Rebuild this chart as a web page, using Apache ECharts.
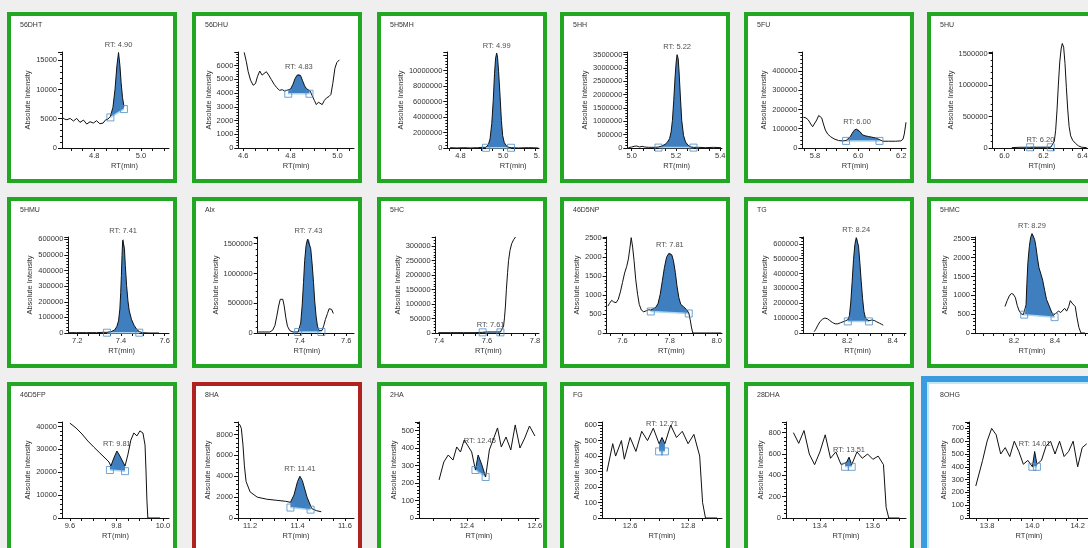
<!DOCTYPE html>
<html><head><meta charset="utf-8">
<script src="https://cdn.jsdelivr.net/npm/echarts@6/dist/echarts.min.js"></script>
<style>html,body{margin:0;padding:0;background:#efefef;}#c{width:1088px;height:548px;}</style>
</head><body><div id="c"></div>
<script>
// ---------------- DATA ----------------
const names = ['56DHT','56DHU','5H5MH','5HH','5FU','5HU','5HMU','Alx','5HC','46D5NP','TG','5HMC','46D5FP','8HA','2HA','FG','28DHA','8OHG'];
const rtText = ['RT: 4.90','RT: 4.83','RT: 4.99','RT: 5.22','RT: 6.00','RT: 6.20','RT: 7.41','RT: 7.43','RT: 7.61','RT: 7.81','RT: 8.24','RT: 8.29','RT: 9.81','RT: 11.41','RT: 12.45','RT: 12.71','RT: 13.51','RT: 14.01'];
const status = ['ok','ok','ok','ok','ok','ok','ok','ok','ok','ok','ok','ok','ok','bad','ok','ok','ok','selected'];

const xMin = [4.662,4.579,4.739,4.980,5.741,5.940, 7.159,7.219,7.386,7.533,8.007,8.010, 9.566,11.149,12.259,12.503,13.272,13.72];
const xMax = [5.120,5.070,5.168,5.408,6.222,6.434, 7.620,7.633,7.817,8.022,8.459,8.566, 10.026,11.638,12.612,12.917,13.725,14.25];
const xLabelVals = [[4.8,5.0],[4.6,4.8,5.0],[4.8,5.0,5.158],[5.0,5.2,5.4],[5.8,6.0,6.2],[6.0,6.2,6.4],
  [7.2,7.4,7.6],[7.2,7.4,7.6],[7.4,7.6,7.8],[7.6,7.8,8.0],[8.0,8.2,8.4],[8.2,8.4,8.6],
  [9.6,9.8,10.0],[11.2,11.4,11.6],[12.4,12.6],[12.6,12.8],[13.4,13.6],[13.8,14.0,14.2]];
const xLabelText = [['4.8','5.0'],['4.6','4.8','5.0'],['4.8','5.0','5.'],['5.0','5.2','5.4'],['5.8','6.0','6.2'],['6.0','6.2','6.4'],
  ['7.2','7.4','7.6'],['7.2','7.4','7.6'],['7.4','7.6','7.8'],['7.6','7.8','8.0'],['8.0','8.2','8.4'],['8.2','8.4','8.6'],
  ['9.6','9.8','10.0'],['11.2','11.4','11.6'],['12.4','12.6'],['12.6','12.8'],['13.4','13.6'],['13.8','14.0','14.2']];
const yMax = [16400,6990,12400000,3600000,498000,1523000, 615000,1613000,331500,2527,646000,2550, 42000,9200,550,620,900,750];
const yStep = [5000,1000,2000000,500000,100000,500000, 100000,500000,50000,500,100000,500, 10000,2000,100,100,200,100];
const yLabelTop = [15000,6000,10000000,3500000,400000,1500000, 600000,1500000,300000,2500,600000,2500, 40000,8000,500,600,800,700];

// chromatogram traces [RT(min), intensity]
const c_56DHT = [[4.662,5227],[4.673,4943],[4.683,4830],[4.697,5057],[4.711,4602],[4.725,5057],[4.739,4375],[4.754,4773],[4.768,4091],[4.782,4489],[4.796,4261],[4.810,4659],[4.824,4148],[4.838,4261],[4.849,4830],[4.859,4943],[4.869,5398],[4.880,6932],[4.889,10057],[4.897,14034],[4.904,16307],[4.910,14034],[4.915,11193],[4.921,8636],[4.927,7102]];
const c_56DHU = [[4.604,6963],[4.613,6296],[4.621,5555],[4.631,4938],[4.642,4568],[4.652,4691],[4.660,5185],[4.670,5605],[4.680,5308],[4.688,5185],[4.698,5555],[4.708,5308],[4.719,4987],[4.731,4642],[4.742,4395],[4.754,4197],[4.766,4247],[4.775,4148],[4.785,4197],[4.792,4148],[4.801,4296],[4.811,4642],[4.820,5061],[4.829,5308],[4.836,5383],[4.843,5284],[4.851,4938],[4.860,4543],[4.868,4321],[4.876,4247],[4.884,4148],[4.892,3827],[4.902,3457],[4.910,3160],[4.919,3333],[4.927,3383],[4.935,3160],[4.944,3457],[4.954,3654],[4.964,3753],[4.972,3901],[4.980,4691],[4.989,5802],[4.997,6222],[5.008,6419]];
const c_5H5MH = [[4.752,40000],[4.784,5000],[4.816,40000],[4.848,5000],[4.880,40000],[4.904,87000],[4.920,87000],[4.931,434780],[4.939,1173900],[4.947,3130000],[4.954,6174000],[4.960,9652000],[4.965,11609000],[4.970,12261000],[4.974,11739000],[4.979,9870000],[4.986,6609000],[4.992,3565000],[4.998,1608000],[5.005,739000],[5.014,304000],[5.027,87000],[5.040,43000],[5.072,5000],[5.120,43000],[5.165,5000]];
const c_5HH = [[4.985,12500],[5.000,37500],[5.011,62500],[5.023,75000],[5.035,37500],[5.047,62500],[5.059,37500],[5.075,25000],[5.091,25000],[5.106,25000],[5.121,37500],[5.136,75000],[5.151,137500],[5.162,225000],[5.171,350000],[5.178,600000],[5.184,1037500],[5.190,1787500],[5.196,2662500],[5.201,3225000],[5.205,3500000],[5.210,3350000],[5.214,2850000],[5.220,1912500],[5.226,1037500],[5.234,475000],[5.243,225000],[5.255,100000],[5.267,37500],[5.279,25000],[5.302,25000],[5.332,12500],[5.370,25000],[5.403,12500]];
const c_5FU = [[5.746,159600],[5.758,156100],[5.769,145600],[5.780,124500],[5.789,110500],[5.798,117500],[5.808,145600],[5.817,168400],[5.823,171900],[5.831,156100],[5.839,124500],[5.848,93000],[5.859,71900],[5.873,57900],[5.888,47400],[5.909,38600],[5.927,36800],[5.944,38600],[5.953,43900],[5.963,57900],[5.972,75400],[5.981,91200],[5.991,98200],[6.000,96500],[6.009,84200],[6.020,68400],[6.033,63100],[6.048,59600],[6.064,56100],[6.079,52600],[6.091,47400],[6.099,40300],[6.115,35100],[6.141,35100],[6.172,35100],[6.198,36800],[6.208,45600],[6.214,71900],[6.222,133300]];
const c_5HU = [[6.038,5900],[6.080,11700],[6.115,11700],[6.132,11700],[6.157,11700],[6.183,11700],[6.209,11700],[6.238,11700],[6.248,29300],[6.256,105500],[6.263,281200],[6.270,603500],[6.277,1013600],[6.284,1365100],[6.291,1570200],[6.297,1658100],[6.304,1599500],[6.311,1335900],[6.318,955000],[6.325,603500],[6.332,339800],[6.340,193300],[6.350,123000],[6.364,76200],[6.379,35200],[6.397,11700],[6.422,5900]];
const c_5HMU = [[7.162,2150],[7.197,2150],[7.242,2150],[7.288,2150],[7.318,4300],[7.336,4300],[7.355,8600],[7.371,19400],[7.381,40900],[7.389,77400],[7.395,152700],[7.399,260200],[7.402,367700],[7.405,496700],[7.408,593400],[7.410,604200],[7.413,593400],[7.416,539700],[7.420,432200],[7.426,303200],[7.432,206400],[7.438,141900],[7.448,88200],[7.460,49500],[7.472,23700],[7.484,8600],[7.499,2150],[7.529,0],[7.574,0]];
const c_Alx = [[7.221,17000],[7.250,17000],[7.271,17000],[7.283,45300],[7.293,124500],[7.301,283000],[7.309,452800],[7.316,566000],[7.321,588600],[7.327,566000],[7.333,452800],[7.340,254700],[7.347,113200],[7.357,39600],[7.371,17000],[7.393,17000],[7.399,45300],[7.404,169800],[7.410,452800],[7.416,849000],[7.421,1216900],[7.427,1471600],[7.433,1573500],[7.437,1584800],[7.441,1550800],[7.447,1415000],[7.453,1160300],[7.459,849000],[7.464,537700],[7.470,283000],[7.476,113200],[7.483,39600],[7.490,17000],[7.496,45300],[7.503,124500],[7.510,226400],[7.519,328300],[7.526,407500],[7.531,430200],[7.537,396200],[7.544,328300]];
const c_5HC = [[7.397,1200],[7.447,1200],[7.503,1200],[7.546,1200],[7.582,2300],[7.602,3500],[7.623,3500],[7.644,3500],[7.656,3500],[7.663,8100],[7.669,23300],[7.673,52300],[7.677,93000],[7.681,151200],[7.686,209300],[7.690,250000],[7.696,285000],[7.703,308200],[7.711,322200],[7.719,331500]];
const c_46D5NP = [[7.538,709],[7.545,780],[7.554,860],[7.563,816],[7.573,798],[7.582,887],[7.591,1082],[7.600,1330],[7.609,1578],[7.618,1755],[7.625,1950],[7.631,2216],[7.637,2509],[7.643,2261],[7.649,1906],[7.656,1418],[7.664,1019],[7.671,754],[7.680,603],[7.690,558],[7.701,585],[7.711,612],[7.720,603],[7.730,638],[7.741,674],[7.751,780],[7.760,1019],[7.769,1374],[7.778,1729],[7.787,1995],[7.796,2092],[7.801,2110],[7.809,2057],[7.816,1906],[7.824,1596],[7.831,1241],[7.839,931],[7.847,754],[7.859,691],[7.871,621],[7.881,532],[7.887,355],[7.893,133],[7.898,0],[7.919,0],[7.963,0],[8.019,0]];
const c_TG = [[8.055,9100],[8.062,25100],[8.071,52500],[8.081,77600],[8.092,93600],[8.102,100500],[8.113,95900],[8.123,84500],[8.135,70800],[8.147,61600],[8.159,61600],[8.170,68500],[8.182,75300],[8.193,82200],[8.203,89000],[8.210,116400],[8.216,207800],[8.222,344700],[8.228,493100],[8.234,595900],[8.240,641500],[8.244,637000],[8.250,584400],[8.256,470300],[8.262,344700],[8.268,230600],[8.274,143800],[8.281,98200],[8.289,86800],[8.296,82200],[8.307,86800],[8.319,84500],[8.330,75300],[8.342,66200],[8.351,59400],[8.359,52500]];
const c_5HMC = [[8.156,702],[8.167,861],[8.177,983],[8.187,1049],[8.197,1030],[8.207,936],[8.216,730],[8.226,581],[8.236,506],[8.246,487],[8.254,524],[8.259,749],[8.263,1311],[8.268,1873],[8.275,2294],[8.281,2528],[8.288,2640],[8.294,2603],[8.301,2481],[8.307,2294],[8.314,2013],[8.322,1732],[8.330,1592],[8.340,1404],[8.350,1124],[8.359,889],[8.371,730],[8.382,581],[8.392,468],[8.398,440],[8.408,543],[8.418,581],[8.428,543],[8.437,581],[8.447,655],[8.457,581],[8.467,702],[8.475,861],[8.483,796],[8.491,824],[8.499,702],[8.507,421],[8.517,140],[8.527,0],[8.546,0]];
const c_46D5FP = [[9.600,41500],[9.626,39400],[9.652,36750],[9.677,33700],[9.703,31000],[9.729,28400],[9.751,26250],[9.768,24500],[9.776,22750],[9.789,26250],[9.802,29300],[9.815,27100],[9.828,24500],[9.837,22750],[9.849,27600],[9.862,34100],[9.875,37200],[9.888,35900],[9.901,38100],[9.914,37200],[9.923,31900],[9.927,21000],[9.931,7900],[9.935,0],[9.987,0]];
const c_8HA = [[11.155,9000],[11.163,8600],[11.170,7000],[11.176,5000],[11.183,3500],[11.20,2500],[11.23,2000],[11.27,1800],[11.31,1700],[11.35,1600],[11.37,1500],[11.385,2200],[11.40,3500],[11.41,4000],[11.42,3600],[11.44,2000],[11.46,900],[11.48,700],[11.50,600]];
const c_2HA = [[12.318,218],[12.332,321],[12.345,361],[12.359,332],[12.370,407],[12.381,378],[12.392,447],[12.403,413],[12.414,378],[12.425,275],[12.433,361],[12.444,304],[12.455,235],[12.466,390],[12.477,447],[12.490,516],[12.501,407],[12.515,464],[12.529,390],[12.542,533],[12.556,401],[12.570,458],[12.584,527],[12.600,470]];
const c_FG = [[12.52,300],[12.54,480],[12.55,400],[12.57,500],[12.58,380],[12.60,520],[12.62,430],[12.64,560],[12.66,500],[12.68,580],[12.70,480],[12.71,520],[12.72,480],[12.74,600],[12.76,520],[12.78,560],[12.80,480],[12.82,540],[12.84,400],[12.85,100],[12.86,0],[12.90,0]];
const c_28DHA = [[13.30,800],[13.32,700],[13.34,820],[13.36,600],[13.38,500],[13.40,620],[13.42,780],[13.44,560],[13.46,620],[13.48,500],[13.50,520],[13.51,570],[13.52,500],[13.54,620],[13.56,560],[13.58,600],[13.60,550],[13.62,580],[13.64,500],[13.65,100],[13.66,0],[13.70,0]];
const c_8OHG = [[13.75,250],[13.78,450],[13.80,600],[13.82,700],[13.84,650],[13.86,500],[13.88,550],[13.90,480],[13.92,600],[13.94,520],[13.96,420],[13.98,450],[14.00,400],[14.01,520],[14.02,420],[14.04,450],[14.06,560],[14.08,600],[14.10,500],[14.12,600],[14.14,480],[14.16,520],[14.18,600],[14.20,400],[14.22,550],[14.24,580]];
const curves = [c_56DHT,c_56DHU,c_5H5MH,c_5HH,c_5FU,c_5HU,c_5HMU,c_Alx,c_5HC,c_46D5NP,c_TG,c_5HMC,c_46D5FP,c_8HA,c_2HA,c_FG,c_28DHA,c_8OHG];

// integration boundaries: [RT, baseline intensity]
const peakStart = [[4.869,5227],[4.791,3950],[4.920,30000],[5.121,15000],[5.944,36800],[6.132,11700],[7.336,2000],[7.393,17000],[7.582,2300],[7.720,567],[8.203,78000],[8.250,487],[9.772,21000],[11.37,1000],[12.425,275],[12.70,430],[13.495,480],[14.00,400]];
const peakEnd   = [[4.927,6650],[4.881,3950],[5.037,30000],[5.279,15000],[6.099,36800],[6.238,11700],[7.484,2000],[7.493,17000],[7.656,2300],[7.881,514],[8.296,78000],[8.398,421],[9.837,20500],[11.455,800],[12.455,235],[12.72,430],[13.52,480],[14.02,400]];
// label anchor (apex of integrated peak)
const apex = [[4.904,16307],[4.836,5383],[4.970,12261000],[5.205,3500000],[5.995,98200],[6.185,11700],[7.410,604200],[7.437,1584800],[7.615,3500],[7.801,2110],[8.240,641500],[8.288,2640],[9.802,29300],[11.41,4000],[12.438,400],[12.71,560],[13.51,570],[14.01,520]];

// ---------------- LAYOUT ----------------
const FONT = '"Liberation Sans", Arial, Helvetica, sans-serif';
const colX = [7,192,377,560,744,927], rowY = [12,197,382];
const FW = 170, FH = 171, PLOT_TOP = 40, PLOT_BOTTOM = 136, PLOT_RIGHT = 162;
const gridLeft = [55,46.3,70.3,67.3,58.3,65.7, 61.3,65.7,58.7,46.7,59.3,48, 55,46,42,42,42,42];
const xNameShift = [9,0,20,2,1,1, 3,1,1,7,3,0, 0,0,0,0,0,0];
const frameCol = {ok:'#22a722', bad:'#b0221f', selected:'#3a9be0'};

function interp(curve, x) {
  for (let k = 0; k < curve.length - 1; k++) {
    const a = curve[k], b = curve[k+1];
    if (x >= a[0] && x <= b[0]) return a[1] + (b[1]-a[1]) * (x-a[0]) / (b[0]-a[0]);
  }
  return x < curve[0][0] ? curve[0][1] : curve[curve.length-1][1];
}

const grids = [], xAxes = [], yAxes = [], series = [], graphics = [];
names.forEach((nm, i) => {
  const r = Math.floor(i / 6), c = i % 6;
  const px = colX[c], py = rowY[r];
  const st = status[i];
  if (st === 'selected') {
    graphics.push({type:'rect', z:-2, silent:true, shape:{x:px-6, y:py-6, width:FW+12, height:FH+12}, style:{fill:'#3a9be0'}});
    graphics.push({type:'rect', z:-1, silent:true, shape:{x:px+1, y:py+1, width:FW-2, height:FH-2}, style:{fill:'#fff', stroke:'#bfe8f4', lineWidth:2}});
  } else {
    graphics.push({type:'rect', z:-1, silent:true, shape:{x:px+2, y:py+2, width:FW-4, height:FH-4}, style:{fill:'#fff', stroke:frameCol[st], lineWidth:4}});
  }
  graphics.push({type:'text', z:5, silent:true, x:px+13, y:py+13, style:{text:nm, fill:'#333', font:'7px ' + FONT, textVerticalAlign:'middle', verticalAlign:'middle'}});

  const gl = gridLeft[i];
  grids.push({left:px+gl, top:py+PLOT_TOP, width:PLOT_RIGHT-gl, height:PLOT_BOTTOM-PLOT_TOP, containLabel:false, outerBoundsMode:'none', show:false});

  const tks = [];
  for (let t = Math.ceil(xMin[i]/0.05 - 1e-6); t*0.05 <= xMax[i] + 1e-9; t++) tks.push(+(t*0.05).toFixed(3));
  const labVals = xLabelVals[i], labTxt = xLabelText[i];
  xAxes.push({
    type:'value', gridIndex:i, min:xMin[i], max:xMax[i],
    name:'RT(min)', nameLocation:'middle', nameGap:14,
    nameTextStyle:{fontSize:7.5, color:'#333', fontFamily:FONT, padding: xNameShift[i] > 0 ? [0,0,0,2*xNameShift[i]] : 0},
    axisLine:{show:true, onZero:false, lineStyle:{color:'#111', width:1}},
    axisTick:{show:true, customValues:tks, length:3, lineStyle:{color:'#111'}},
    axisLabel:{show:true, customValues:labVals, margin:4, fontSize:7.5, color:'#333', fontFamily:FONT,
      formatter:(v) => { const k = labVals.findIndex(u => Math.abs(u - v) < 1e-6); return k >= 0 ? labTxt[k] : ''; }},
    splitLine:{show:false}
  });

  const yl = [];
  for (let v = 0; v <= yLabelTop[i] + 1e-9; v += yStep[i]) yl.push(v);
  const maxLen = String(yl[yl.length-1]).length;
  yAxes.push({
    type:'value', gridIndex:i, min:0, max:yMax[i], interval:yStep[i],
    name:'Absolute Intensity', nameLocation:'middle', nameGap: maxLen*4.17 + 8.7,
    nameTextStyle:{fontSize:7.5, color:'#333', fontFamily:FONT},
    axisLine:{show:true, lineStyle:{color:'#111', width:1}},
    axisTick:{show:true, length:4, lineStyle:{color:'#111'}},
    minorTick:{show:true, splitNumber:5, length:2, lineStyle:{color:'#111'}},
    axisLabel:{show:true, customValues:yl, margin:5, fontSize:7.5, color:'#333', fontFamily:FONT, formatter:(v)=>String(Math.round(v))},
    splitLine:{show:false}, minorSplitLine:{show:false}
  });

  const cv = curves[i], s = peakStart[i], e = peakEnd[i];
  series.push({
    type:'custom', xAxisIndex:i, yAxisIndex:i, z:2, silent:true, data:[[s[0], s[1]]],
    renderItem: (params, api) => {
      const pts = [api.coord([s[0], s[1]]), api.coord([s[0], interp(cv, s[0])])];
      cv.forEach(p => { if (p[0] > s[0] && p[0] < e[0]) pts.push(api.coord(p)); });
      pts.push(api.coord([e[0], interp(cv, e[0])]));
      pts.push(api.coord([e[0], e[1]]));
      return {type:'polygon', shape:{points:pts}, style:{fill:'#3f7fc0'}};
    }
  });
  series.push({type:'line', xAxisIndex:i, yAxisIndex:i, z:3, silent:true, data:[s, e], showSymbol:false, symbol:'none', clip:false,
    lineStyle:{color:'#a8d6f2', width:1.5}});
  series.push({type:'line', xAxisIndex:i, yAxisIndex:i, z:4, silent:true, data:cv, showSymbol:false, symbol:'none', clip:false,
    lineStyle:{color:'#111', width:1}});
  series.push({type:'scatter', xAxisIndex:i, yAxisIndex:i, z:5, silent:true, data:[s, e], symbol:'rect', symbolSize:7, clip:false,
    itemStyle:{color:'rgba(255,255,255,0)', borderColor:'#4f8cc4', borderWidth:1}});
  series.push({type:'scatter', xAxisIndex:i, yAxisIndex:i, z:6, silent:true, data:[apex[i]], symbolSize:1, clip:false,
    itemStyle:{color:'rgba(0,0,0,0)'},
    label:{show:true, position:'top', distance:3, formatter:rtText[i], fontSize:7.5, color:'#222', fontFamily:FONT}});
});

const chart = echarts.init(document.getElementById('c'), null, {renderer:'canvas'});
chart.setOption({
  backgroundColor:'#efefef', animation:false,
  grid:grids, xAxis:xAxes, yAxis:yAxes, series:series, graphic:graphics
});
</script></body></html>
